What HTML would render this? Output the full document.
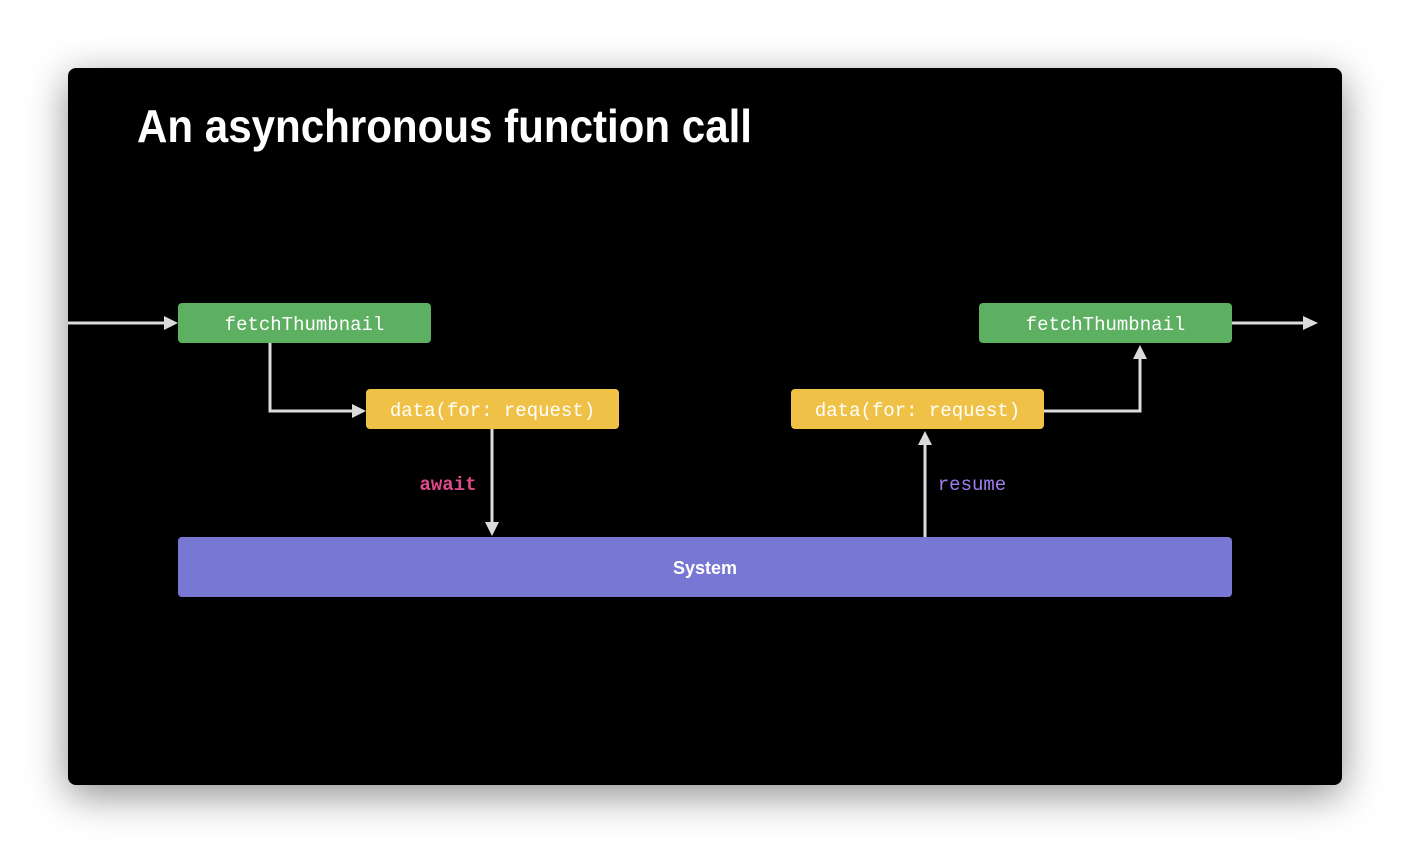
<!DOCTYPE html>
<html><head><meta charset="utf-8"><style>
html,body{margin:0;padding:0;background:#fff;width:1410px;height:854px;overflow:hidden}
.card{position:absolute;left:68px;top:68px;width:1274px;height:717px;background:#000;border-radius:8px;box-shadow:0 10px 40px rgba(0,0,0,0.45)}
svg{position:absolute;left:0;top:0}
</style></head><body>
<div class="card"></div>
<svg width="1410" height="854" viewBox="0 0 1410 854">
<text x="137" y="142" font-family="Liberation Sans, sans-serif" font-weight="bold" font-size="46" fill="#fff" textLength="615" lengthAdjust="spacingAndGlyphs">An asynchronous function call</text>
<g stroke="#dcdcdc" stroke-width="3" fill="none">
<line x1="68" y1="323" x2="164" y2="323"/>
<polyline points="270,343 270,411 352,411"/>
<line x1="492" y1="429" x2="492" y2="523"/>
<line x1="925" y1="537" x2="925" y2="444"/>
<polyline points="1044,411 1140,411 1140,358"/>
<line x1="1232" y1="323" x2="1304" y2="323"/>
</g>
<g fill="#dcdcdc">
<polygon points="164,316 178,323 164,330"/>
<polygon points="352,404 366,411 352,418"/>
<polygon points="485,522 492,536 499,522"/>
<polygon points="918,445 925,431 932,445"/>
<polygon points="1133,359 1140,345 1147,359"/>
<polygon points="1303,316 1318,323 1303,330"/>
</g>
<rect x="178" y="303" width="253" height="40" rx="4" fill="#5daf61"/>
<rect x="979" y="303" width="253" height="40" rx="4" fill="#5daf61"/>
<rect x="366" y="389" width="253" height="40" rx="4" fill="#efc247"/>
<rect x="791" y="389" width="253" height="40" rx="4" fill="#efc247"/>
<rect x="178" y="537" width="1054" height="60" rx="4" fill="#7878d4"/>
<g font-family="Liberation Mono, monospace" font-size="19" fill="#fff" text-anchor="middle">
<text x="304.5" y="330">fetchThumbnail</text>
<text x="1105.5" y="330">fetchThumbnail</text>
<text x="492.5" y="416">data(for: request)</text>
<text x="917.5" y="416">data(for: request)</text>
</g>
<text x="448" y="490" font-family="Liberation Mono, monospace" font-weight="bold" font-size="19" fill="#de4a8a" text-anchor="middle">await</text>
<text x="972" y="490" font-family="Liberation Mono, monospace" font-size="19" fill="#a07ef0" text-anchor="middle">resume</text>
<text x="705" y="574" font-family="Liberation Sans, sans-serif" font-weight="bold" font-size="18" fill="#fff" text-anchor="middle">System</text>
</svg>
</body></html>
